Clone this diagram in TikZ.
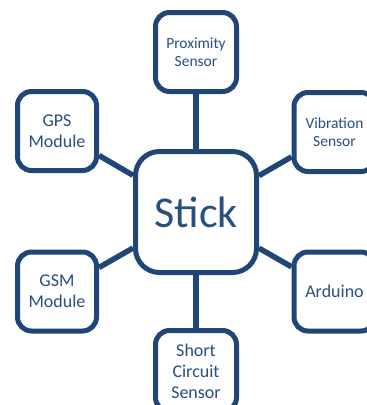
\documentclass[tikz,border=0pt]{standalone}
\usepackage{fontspec}
\setmainfont{Carlito}
\definecolor{boxblue}{HTML}{1F4677}
\definecolor{textblue}{HTML}{284F80}
\begin{document}
\begin{tikzpicture}[x=1pt,y=-1pt,
  box/.style={draw=boxblue, line width=5pt, fill=white, rounded corners=14pt,
    text=textblue, align=center, inner sep=0pt, font=\fontsize{15.5}{18}\selectfont},
  big/.style={font=\fontsize{18}{21}\selectfont},
  link/.style={draw=boxblue, line width=5.5pt}]
\useasboundingbox (0,0) rectangle (367,405);
\fill[white] (0,0) rectangle (367,405);
\node[box, minimum width=121pt, minimum height=121pt, rounded corners=24pt,
  font=\fontsize{44}{48}\selectfont] (stick) at (196,212) {Stick};
\node[box, minimum width=81pt, minimum height=79pt] (prox) at (196,52) {Proximity\\Sensor};
\node[box, big, minimum width=79pt, minimum height=79pt] (gps) at (57,131) {GPS\\Module};
\node[box, minimum width=81pt, minimum height=79pt] (vib) at (334.5,132) {Vibration\\Sensor};
\node[box, big, minimum width=79pt, minimum height=79pt] (gsm) at (57,291.5) {GSM\\Module};
\node[box, big, minimum width=81pt, minimum height=79pt] (ard) at (334.5,291.5) {Arduino};
\node[box, big, minimum width=81pt, minimum height=81pt] (short) at (196,371) {Short\\Circuit\\Sensor};
\begin{scope}[on background layer/.style={}]
\end{scope}
\draw[link] (prox.south) -- (stick.north);
\draw[link] (short.north) -- (stick.south);
\draw[link] (gps) -- (stick);
\draw[link] (gsm) -- (stick);
\draw[link] (vib) -- (stick);
\draw[link] (ard) -- (stick);
\end{tikzpicture}
\end{document}
